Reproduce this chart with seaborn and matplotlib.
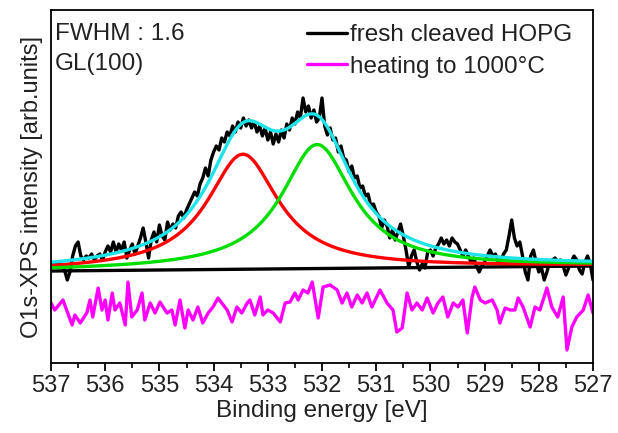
import numpy as np
import pandas as pd
import matplotlib
matplotlib.use("Agg")
import matplotlib.pyplot as plt
from matplotlib.lines import Line2D
from matplotlib.ticker import MultipleLocator
import seaborn as sns

# O1s spectrum of freshly cleaved HOPG, 537 -> 527 eV in 0.05 eV steps (arb. units)
fresh_intensity = [
    101, 97, 99, 101, 97, 93, 83, 91, 107, 117,
    121, 107, 103, 107, 105, 109, 103, 107, 109, 103,
    111, 117, 111, 121, 111, 119, 113, 121, 105, 113,
    119, 109, 117, 125, 135, 121, 105, 123, 131, 121,
    138, 127, 123, 141, 133, 139, 135, 147, 151, 145,
    153, 159, 165, 171, 167, 179, 185, 195, 187, 203,
    211, 217, 213, 225, 221, 231, 227, 237, 231, 241,
    235, 245, 237, 243, 235, 241, 231, 237, 227, 235,
    223, 231, 219, 229, 221, 233, 225, 239, 233, 245,
    239, 251, 245, 265, 251, 257, 245, 253, 241, 245,
    265, 237, 228, 235, 223, 225, 211, 217, 205, 203,
    191, 197, 185, 187, 175, 177, 167, 169, 157, 159,
    151, 147, 135, 143, 137, 125, 133, 123, 131, 139,
    127, 113, 96, 107, 113, 101, 93, 99, 95, 111,
    113, 107, 115, 119, 125, 119, 123, 117, 125, 121,
    119, 113, 107, 113, 107, 101, 105, 97, 91, 97,
    101, 107, 113, 107, 109, 101, 103, 109, 113, 127,
    143, 125, 117, 121, 107, 91, 83, 107, 113, 101,
    91, 95, 83, 91, 101, 103, 105, 101, 103, 97,
    88, 95, 101, 107, 103, 93, 89, 101, 107, 99,
    83,
]
fresh_energy = np.linspace(537.0, 527.0, len(fresh_intensity))

# O1s spectrum after heating to 1000 °C
heated_energy = [
    537.00, 536.93, 536.78, 536.61, 536.56, 536.46, 536.34, 536.28, 536.23, 536.13,
    536.06, 536.00, 535.95, 535.87, 535.82, 535.73, 535.63, 535.58, 535.51, 535.41,
    535.32, 535.27, 535.17, 535.08, 534.99, 534.86, 534.77, 534.71, 534.62, 534.53,
    534.47, 534.38, 534.29, 534.20, 534.10, 534.01, 533.92, 533.85, 533.75, 533.66,
    533.57, 533.48, 533.38, 533.33, 533.24, 533.14, 533.09, 533.00, 532.90, 532.77,
    532.68, 532.59, 532.50, 532.44, 532.35, 532.26, 532.18, 532.07, 531.98, 531.85,
    531.72, 531.63, 531.54, 531.45, 531.35, 531.26, 531.17, 531.08, 530.93, 530.80,
    530.69, 530.62, 530.52, 530.43, 530.34, 530.25, 530.15, 530.06, 529.95, 529.86,
    529.77, 529.68, 529.58, 529.49, 529.40, 529.32, 529.23, 529.18, 529.08, 528.99,
    528.86, 528.77, 528.72, 528.62, 528.53, 528.44, 528.38, 528.29, 528.16, 528.07,
    527.98, 527.85, 527.76, 527.65, 527.55, 527.48, 527.39, 527.30, 527.18, 527.09,
    527.00,
]
heated_intensity = [
    60, 53, 63, 38, 48, 40, 50, 63, 46, 75,
    53, 63, 43, 70, 53, 60, 38, 81, 46, 53,
    70, 43, 60, 50, 61, 50, 53, 38, 63, 35,
    53, 43, 56, 40, 50, 56, 65, 60, 53, 41,
    56, 50, 60, 63, 48, 66, 48, 53, 50, 41,
    60, 61, 70, 63, 73, 70, 81, 45, 76, 78,
    73, 60, 70, 56, 68, 60, 70, 56, 73, 60,
    53, 31, 35, 70, 53, 60, 53, 65, 50, 60,
    66, 46, 60, 56, 63, 30, 66, 76, 63, 60,
    63, 53, 40, 55, 53, 53, 65, 56, 36, 56,
    53, 75, 56, 46, 66, 13, 36, 46, 53, 68,
    50,
]

# Peak fit: two Lorentzian components (GL(100)) on a linear background
peak_centers = [533.46, 532.09]
peak_heights = [115, 124]
peak_fwhm = 1.6
background_ends = [92, 97]   # background at 537 eV and 527 eV

energy_axis = [537, 527]
tick_values = [537, 536, 535, 534, 533, 532, 531, 530, 529, 528, 527]

fit_energy = np.linspace(537.0, 527.0, 801)
background = np.interp(fit_energy, energy_axis[::-1], background_ends[::-1])


def lorentzian(x, center, height, fwhm):
    hw = fwhm / 2.0
    return height / (1.0 + ((x - center) / hw) ** 2)


red_peak = background + lorentzian(fit_energy, peak_centers[0], peak_heights[0], peak_fwhm)
green_peak = background + lorentzian(fit_energy, peak_centers[1], peak_heights[1], peak_fwhm)
envelope = red_peak + green_peak - background

fresh = pd.DataFrame({"E": fresh_energy, "I": fresh_intensity})
heated = pd.DataFrame({"E": heated_energy, "I": heated_intensity})
fit = pd.DataFrame({"E": fit_energy, "bg": background, "red": red_peak,
                    "green": green_peak, "env": envelope})

sns.set_theme(style="ticks")
plt.rcParams["font.family"] = ["Liberation Sans", "DejaVu Sans"]

fig = plt.figure(figsize=(6.18, 4.33), dpi=100)
ax = fig.add_axes([51 / 618, 70 / 433, 542 / 618, 353 / 433])

lw = 2.4
sns.lineplot(data=fresh, x="E", y="I", ax=ax, color="black", lw=lw, sort=False)
sns.lineplot(data=heated, x="E", y="I", ax=ax, color="#ff00ff", lw=lw, sort=False)
sns.lineplot(data=fit, x="E", y="bg", ax=ax, color="black", lw=lw, sort=False)
sns.lineplot(data=fit, x="E", y="red", ax=ax, color="#ff0000", lw=lw, sort=False)
sns.lineplot(data=fit, x="E", y="green", ax=ax, color="#00dd00", lw=lw, sort=False)
sns.lineplot(data=fit, x="E", y="env", ax=ax, color="#1ee3e8", lw=lw, sort=False)

ax.set_xlim(energy_axis[0], energy_axis[1])
ax.set_ylim(0, 353)
ax.set_xticks(tick_values)
ax.set_xticklabels([str(t) for t in tick_values])
ax.xaxis.set_minor_locator(MultipleLocator(0.5))
ax.set_yticks([])
ax.tick_params(axis="x", which="major", direction="out", length=6, width=1.3,
               labelsize=17, pad=3, color="black", labelcolor="#222222")
ax.tick_params(axis="x", which="minor", direction="out", length=3.5, width=1.2,
               color="black")
for side in ["left", "right", "top", "bottom"]:
    ax.spines[side].set_visible(True)
    ax.spines[side].set_linewidth(1.3)
    ax.spines[side].set_color("black")

ax.set_xlabel("Binding energy [eV]", fontsize=17.5, color="#222222", labelpad=2)
ax.set_ylabel("O1s-XPS intensity [arb.units]", fontsize=17, color="#222222", labelpad=6)

ax.text(0.007, 0.915, "FWHM : 1.6", transform=ax.transAxes, fontsize=17.5,
        color="#222222", va="baseline", ha="left")
ax.text(0.007, 0.830, "GL(100)", transform=ax.transAxes, fontsize=17.5,
        color="#222222", va="baseline", ha="left")

handles = [Line2D([], [], color="black", lw=lw),
           Line2D([], [], color="#ff00ff", lw=lw)]
leg = ax.legend(handles, ["fresh cleaved HOPG", "heating to 1000°C"],
                loc="upper right", bbox_to_anchor=(0.962, 0.96), frameon=False,
                fontsize=17.5, handlelength=1.65, handletextpad=0.12,
                labelspacing=0.4, borderpad=0, borderaxespad=0)
for t in leg.get_texts():
    t.set_color("#222222")

fig.savefig("out.png", dpi=100)
